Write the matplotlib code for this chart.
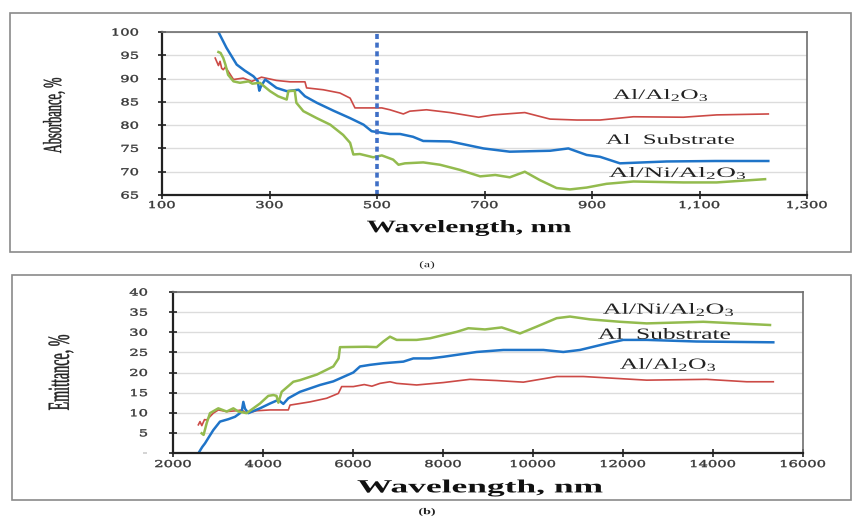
"""Absorbance and emittance spectra of Al, Al/Al2O3 and Al/Ni/Al2O3 (two stacked panels)."""

import matplotlib
matplotlib.use("Agg")
from matplotlib import pyplot as plt
from matplotlib.patches import Rectangle, PathPatch
from matplotlib.textpath import TextPath
from matplotlib.font_manager import FontProperties
from matplotlib.transforms import Affine2D, IdentityTransform

plt.rcParams['mathtext.fontset'] = 'custom'
plt.rcParams['mathtext.rm'] = 'Liberation Serif'
plt.rcParams['mathtext.it'] = 'Liberation Serif:italic'
plt.rcParams['mathtext.bf'] = 'Liberation Serif:bold'

# panel (a): absorbance, %
abs_sub_x = [205, 220, 239, 254, 270, 278, 281, 284, 292, 313, 332, 354, 366, 388, 419, 450, 475, 490,
             524, 543, 567, 586, 636, 698, 747, 822, 856, 890, 915, 952, 1039, 1130, 1228]
abs_sub_y = [100, 96.6, 93, 91.7, 90.5, 89.5, 87.4, 88.3, 89.8, 88, 87.3, 87.6, 86.2, 84.8, 83.1, 81.5, 80.1, 78.7,
             78.1, 78.1, 77.5, 76.6, 76.5, 75, 74.3, 74.5, 75, 73.6, 73.2, 71.8, 72.2, 72.3, 72.3]
abs_al2o3_x = [199, 205, 208, 211, 214, 218, 233, 251, 267, 285, 313, 338, 366, 369, 400, 431, 450, 459, 487,
               509, 524, 549, 561, 592, 636, 689, 716, 775, 822, 872, 915, 977, 1070, 1132, 1228]
abs_al2o3_y = [94.4, 92.8, 93.7, 92.2, 91.9, 92.5, 89.8, 90.1, 89.4, 90.3, 89.6, 89.3, 89.3, 88, 87.6, 86.9, 85.8,
               83.7, 83.7, 83.7, 83.3, 82.4, 83, 83.3, 82.7, 81.7, 82.2, 82.7, 81.3, 81.1, 81.1, 81.8, 81.7, 82.2,
               82.4]
abs_ni_x = [205, 209, 214, 218, 223, 233, 245, 261, 268, 282, 301, 316, 332, 335, 347, 350, 363, 388, 413, 437,
            450, 456, 468, 493, 509, 530, 540, 552, 586, 617, 654, 692, 720, 747, 775, 803, 834, 859, 890, 927,
            977, 1070, 1132, 1222]
abs_ni_y = [95.7, 95.5, 94.4, 93, 90.8, 89.4, 89.1, 89.4, 88.9, 89.1, 87.3, 86.2, 85.5, 87.3, 87.4, 84.8, 83,
            81.5, 80.1, 77.9, 76.2, 73.7, 73.8, 73.1, 73.5, 72.6, 71.5, 71.8, 72, 71.5, 70.4, 69, 69.3, 68.8, 70,
            68.2, 66.5, 66.2, 66.6, 67.4, 67.9, 67.7, 67.7, 68.4]
abs_xticks = [100, 300, 500, 700, 900, 1100, 1300]
abs_xticklabels = ['100', '300', '500', '700', '900', '1,100', '1,300']
abs_yticks = [65, 70, 75, 80, 85, 90, 95, 100]
abs_yticklabels = ['65', '70', '75', '80', '85', '90', '95', '100']
marker_wavelength = 500

# panel (b): emittance, %
emi_sub_x = [2584, 2650, 2711, 2800, 2896, 3044, 3230, 3378, 3489, 3530, 3563, 3600, 3674, 3933, 4156, 4341,
             4452, 4563, 4822, 5267, 5563, 6007, 6156, 6378, 6674, 7119, 7341, 7711, 8007, 8748, 9341, 10230,
             10674, 11044, 11637, 12007, 12526, 13637, 15340]
emi_sub_y = [0.3, 1.5, 2.4, 4, 5.7, 7.8, 8.4, 9, 9.9, 10.5, 12.7, 11, 9.9, 11.1, 12.3, 13.2, 12.2, 13.6, 15.2,
             16.9, 17.8, 20, 21.5, 21.9, 22.3, 22.7, 23.5, 23.5, 23.9, 25.1, 25.6, 25.6, 25.1, 25.6, 27.2, 28.1,
             28.1, 27.7, 27.5]
emi_al2o3_x = [2563, 2600, 2640, 2700, 2748, 2896, 3007, 3193, 3415, 3520, 3637, 3859, 4156, 4563, 4600, 5044,
               5415, 5674, 5748, 6007, 6250, 6420, 6600, 6822, 6970, 7415, 8007, 8600, 9193, 9785, 10526, 11119,
               12526, 13859, 14748, 15340]
emi_al2o3_y = [7, 7.8, 6.8, 8.3, 8.2, 9.9, 10.7, 10.3, 10.5, 10.7, 9.9, 10.5, 10.7, 10.7, 11.9, 12.7, 13.6, 14.8,
               16.5, 16.5, 17.0, 16.6, 17.3, 17.7, 17.3, 16.9, 17.5, 18.3, 18, 17.6, 19, 19, 18.1, 18.3, 17.7, 17.7]
emi_ni_x = [2637, 2680, 2748, 2822, 3007, 3193, 3341, 3452, 3637, 3933, 4118, 4230, 4300, 4341, 4415, 4674,
            4822, 5200, 5563, 5680, 5711, 6304, 6526, 6674, 6822, 6970, 7415, 7711, 7859, 8304, 8563, 8933,
            9304, 9711, 10082, 10526, 10822, 11267, 11933, 12526, 13785, 15267]
emi_ni_y = [4.9, 4.5, 7.4, 9.9, 11.1, 10.3, 11.1, 10.3, 9.9, 12.3, 14.2, 14.4, 14.2, 12.5, 15.2, 17.7, 18.1,
            19.5, 21.5, 23.5, 26.3, 26.4, 26.3, 27.7, 28.9, 28.1, 28.1, 28.5, 28.9, 30.1, 31, 30.7, 31.2, 29.7,
            31.4, 33.5, 33.9, 33.2, 32.6, 32.2, 32.6, 31.8]
emi_xticks = [2000, 4000, 6000, 8000, 10000, 12000, 14000, 16000]
emi_xticklabels = ['2000', '4000', '6000', '8000', '10000', '12000', '14000', '16000']
emi_yticks = [0, 5, 10, 15, 20, 25, 30, 35, 40]
emi_yticklabels = ['-', '5', '10', '15', '20', '25', '30', '35', '40']

label_sub = 'Al  Substrate'
label_al2o3 = r'Al/Al$_2$O$_3$'
label_ni = r'Al/Ni/Al$_2$O$_3$'

c_blue = '#1f74c8'
c_red = '#cc4a46'
c_green = '#93bb4e'
c_text = '#222222'

W, H = 852, 519
fig = plt.figure(figsize=(W / 100, H / 100), dpi=100)

# the source picture is stretched sideways, so text is drawn as paths with a wider x scale
SX = 1.55


def px_box(x0, y0, x1, y1):
    # pixel box (top-left origin) -> figure fraction [left, bottom, width, height]
    return [x0 / W, 1 - y1 / H, (x1 - x0) / W, (y1 - y0) / H]


def wide_text(s, x, y, size=10, box=None, ha='center', va='center', rotation=0,
              family='Liberation Serif', weight='normal', color=c_text, lw=0.0):
    """Draw text as a path at pixel (x, y), top-left origin. box=(w, h) fits ink to that size."""
    tp = TextPath((0, 0), s, size=size, prop=FontProperties(family=family, weight=weight))
    path = Affine2D().rotate_deg(rotation).scale(SX, 1).transform_path(tp)
    ext = path.get_extents()
    if box is not None:
        path = Affine2D().translate(-ext.x0, -ext.y0).scale(box[0] / ext.width,
                                                            box[1] / ext.height).transform_path(path)
        ext = path.get_extents()
    ax_ = {'left': ext.x0, 'center': (ext.x0 + ext.x1) / 2, 'right': ext.x1}[ha]
    ay_ = {'bottom': ext.y0, 'center': (ext.y0 + ext.y1) / 2, 'top': ext.y1}[va]
    path = Affine2D().translate(x - ax_, (H - y) - ay_).transform_path(path)
    fig.add_artist(PathPatch(path, transform=IdentityTransform(), facecolor=color,
                             edgecolor=color, linewidth=lw))


def tick_labels(ax, xticks, xlabels, yticks, ylabels, x_top, y_right):
    y0 = ax.get_ylim()[0]
    x0 = ax.get_xlim()[0]
    for v, s in zip(xticks, xlabels):
        dx, _ = ax.transData.transform((v, y0))
        wide_text(s, dx, x_top, size=9.5, ha='center', va='top', family='DejaVu Serif',
                  color='#383838', lw=0.3)
    for v, s in zip(yticks, ylabels):
        _, dy = ax.transData.transform((x0, v))
        wide_text(s, y_right, H - dy, size=9.5, ha='right', va='center', family='DejaVu Serif',
                  color='#383838', lw=0.3)


def style_axes(ax, xticks, yticks):
    ax.set_xticks(xticks)
    ax.set_yticks(yticks)
    ax.grid(axis='y', color='#dcdcdc', linewidth=1.0)
    ax.set_axisbelow(True)
    for side in ['top', 'right']:
        ax.spines[side].set_color('#6e6e6e')
        ax.spines[side].set_linewidth(1.2)
    for side in ['left', 'bottom']:
        ax.spines[side].set_color('#222222')
        ax.spines[side].set_linewidth(1.6)
    ax.tick_params(direction='inout', length=6, width=1.2, colors='#222222',
                   labelbottom=False, labelleft=False)


# outer frames of both panels
for x0, y0, x1, y1 in [(10, 13, 851, 252), (12, 275, 851, 500)]:
    l, b, w, h = px_box(x0, y0, x1, y1)
    fig.add_artist(Rectangle((l, b), w, h, transform=fig.transFigure, fill=False,
                             edgecolor='#8a8a8a', linewidth=1.2))

# ---- panel (a)
ax1 = fig.add_axes(px_box(162, 32, 807, 195))
ax1.plot(abs_al2o3_x, abs_al2o3_y, color=c_red, linewidth=1.2)
ax1.plot(abs_sub_x, abs_sub_y, color=c_blue, linewidth=1.8)
ax1.plot(abs_ni_x, abs_ni_y, color=c_green, linewidth=1.8)
ax1.axvline(marker_wavelength, color='#3f6fc6', linewidth=2.6, linestyle=(0, (1.4, 1.0)))
ax1.set_xlim(100, 1300)
ax1.set_ylim(65, 100)
style_axes(ax1, abs_xticks, abs_yticks)
tick_labels(ax1, abs_xticks, abs_xticklabels, abs_yticks, abs_yticklabels, x_top=201, y_right=138)

wide_text(label_al2o3, 660, 95, box=(94, 12))
wide_text(label_sub, 670, 139, box=(128, 10))
wide_text(label_ni, 677, 173, box=(136, 12))
wide_text('Absorbance, %', 54, 115.5, rotation=90, box=(22, 75), lw=0.3)
wide_text('Wavelength, nm', 469, 228, box=(204, 16), weight='bold', color='#111111')
wide_text('(a)', 427, 265, size=9)

# ---- panel (b)
ax2 = fig.add_axes(px_box(173, 292, 803, 453))
ax2.plot(emi_al2o3_x, emi_al2o3_y, color=c_red, linewidth=1.2)
ax2.plot(emi_sub_x, emi_sub_y, color=c_blue, linewidth=1.8)
ax2.plot(emi_ni_x, emi_ni_y, color=c_green, linewidth=1.8)
ax2.set_xlim(2000, 16000)
ax2.set_ylim(0, 40)
style_axes(ax2, emi_xticks, emi_yticks)
tick_labels(ax2, emi_xticks, emi_xticklabels, emi_yticks, emi_yticklabels, x_top=460, y_right=147)

wide_text(label_ni, 668, 309.5, box=(130, 13))
wide_text(label_sub, 664, 333.5, box=(132, 11))
wide_text(label_al2o3, 667.5, 364.5, box=(95, 13))
wide_text('Emittance, %', 61, 372.5, rotation=90, box=(25, 75), lw=0.3)
wide_text('Wavelength, nm', 480, 488, box=(245, 17), weight='bold', color='#111111')
wide_text('(b)', 427, 512, size=9, weight='bold')

plt.savefig('out.png', dpi=100)
